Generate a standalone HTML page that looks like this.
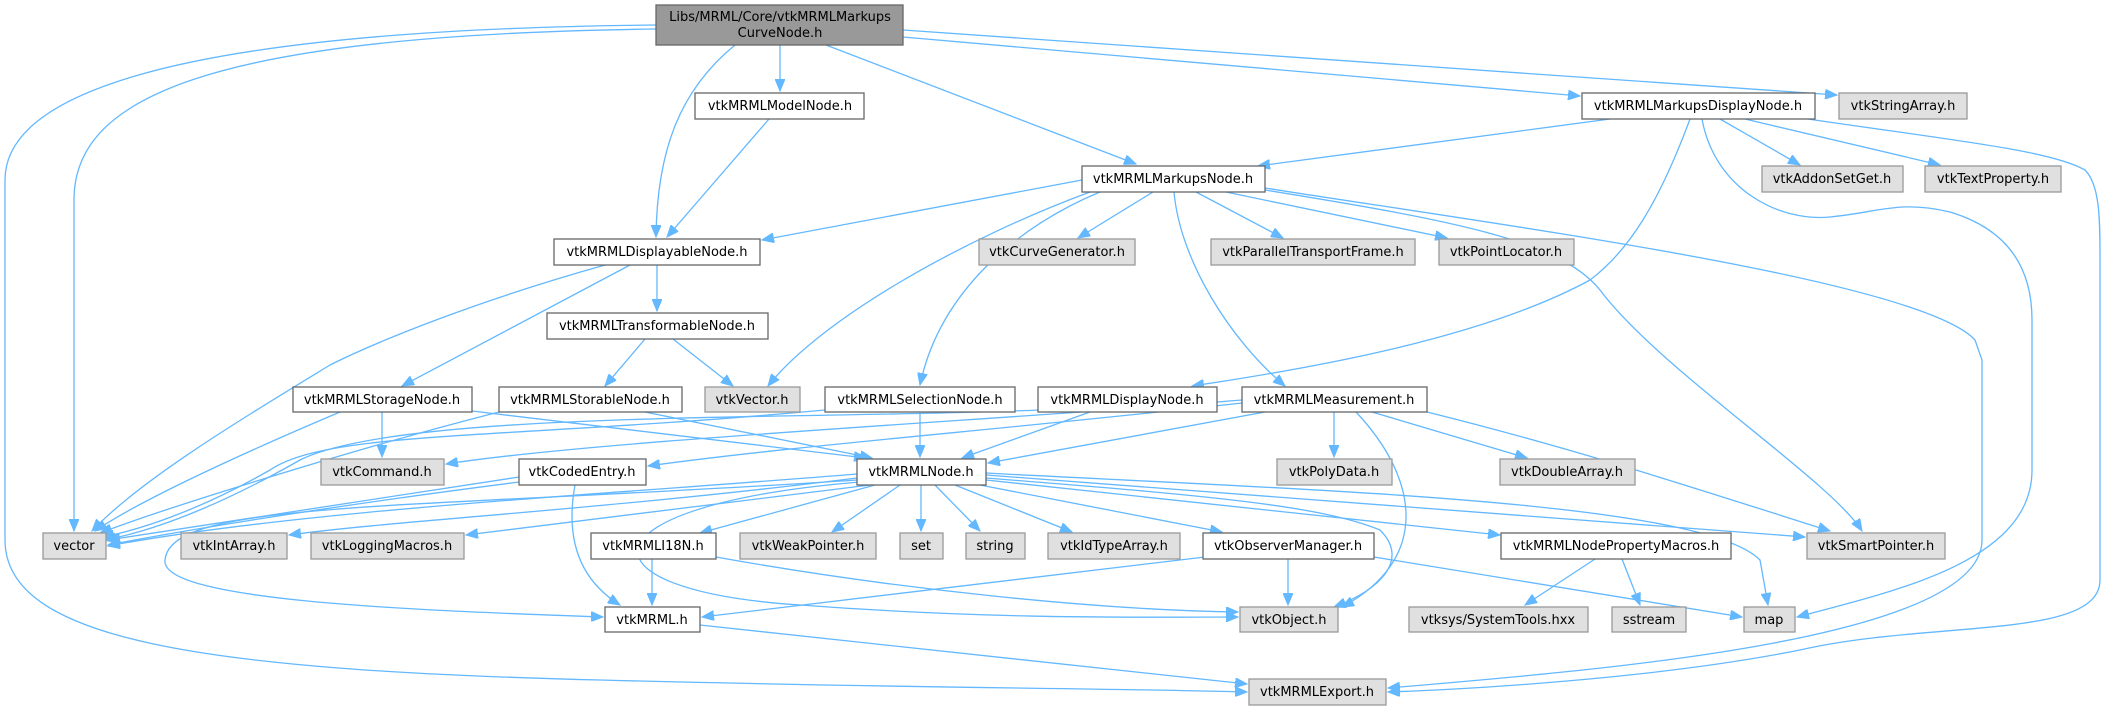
<!DOCTYPE html>
<html><head><meta charset="utf-8"><style>
html,body{margin:0;padding:0;background:#fff;}
svg{display:block;}
text{font-family:"DejaVu Sans","Liberation Sans",sans-serif;font-size:13px;fill:#000;text-anchor:middle;}
.w{fill:#fff;stroke:#666;stroke-width:1.3;}
.g{fill:#e0e0e0;stroke:#999;stroke-width:1.3;}
.r{fill:#999;stroke:#666;stroke-width:1.3;}
path{fill:none;stroke:#63b8ff;stroke-width:1.3;marker-end:url(#a);}
</style></head><body>
<svg width="2105" height="711" viewBox="0 0 2105 711" xmlns="http://www.w3.org/2000/svg">
<defs><marker id="a" markerUnits="userSpaceOnUse" markerWidth="14" markerHeight="10" refX="12" refY="5" orient="auto"><polygon points="0,0 12,5 0,10" fill="#63b8ff" stroke="#63b8ff"/></marker></defs>
<path d="M656,29 C200,35 74,100 74,200 L74,531"/>
<path d="M656,25 C150,30 5,100 5,180 L5,540 C5,640 200,670 600,680 C900,688 1100,688 1247,692"/>
<path d="M735,45 C680,90 657,150 656,237"/>
<path d="M780,45 L780,91"/>
<path d="M826,45 L1136,164"/>
<path d="M903,37 L1580,96"/>
<path d="M903,30 L1837,95"/>
<path d="M769,119 L667,237"/>
<path d="M1610,119 L1258,166"/>
<path d="M1690,119 C1660,200 1630,250 1590,280 C1480,340 1300,370 1192,386"/>
<path d="M1702,119 C1715,190 1780,222 1830,217 C1880,212 1900,200 1950,212 C2010,230 2032,270 2032,320 L2032,470 C2032,560 1900,590 1797,617"/>
<path d="M1720,119 L1800,165"/>
<path d="M1745,119 L1940,165"/>
<path d="M1808,119 C1950,140 2050,150 2085,170 C2100,185 2100,220 2100,260 L2100,580 C2100,640 1930,620 1800,650 C1650,680 1450,690 1388,692"/>
<path d="M1265,188 C1500,225 1920,280 1975,340 L1982,360 L1982,540 C1982,640 1600,670 1388,688"/>
<path d="M1265,190 C1450,220 1560,240 1600,290 C1660,370 1830,480 1862,531"/>
<path d="M1082,180 L762,240"/>
<path d="M1090,192 C960,240 820,320 768,386"/>
<path d="M1100,192 C1020,225 940,290 920,385"/>
<path d="M1153,192 L1078,238"/>
<path d="M1196,192 L1283,238"/>
<path d="M1226,192 L1447,238"/>
<path d="M1174,192 C1180,260 1230,340 1285,386"/>
<path d="M657,265 L657,311"/>
<path d="M630,265 L402,386"/>
<path d="M605,265 C480,300 380,340 330,365 C240,420 140,480 92,531"/>
<path d="M645,339 L605,386"/>
<path d="M673,339 L733,386"/>
<path d="M340,412 C250,450 140,500 95,531"/>
<path d="M382,412 L382,457"/>
<path d="M472,411 L866,458"/>
<path d="M645,412 L872,458"/>
<path d="M499,412 C350,450 160,510 100,533"/>
<path d="M920,412 L920,457"/>
<path d="M825,410 C500,440 330,430 270,470 C200,510 140,530 102,537"/>
<path d="M1090,412 L962,458"/>
<path d="M1040,410 C800,420 400,410 300,460 C230,500 160,530 104,540"/>
<path d="M1242,400 C1000,420 600,440 446,464"/>
<path d="M1242,403 C1000,430 800,445 648,466"/>
<path d="M1265,412 L988,463"/>
<path d="M1334,412 L1334,457"/>
<path d="M1372,412 L1527,458"/>
<path d="M1356,412 C1420,480 1430,560 1342,607"/>
<path d="M1427,412 C1580,450 1700,490 1830,531"/>
<path d="M519,477 L108,540"/>
<path d="M519,482 C300,510 160,535 108,545"/>
<path d="M575,485 C565,540 580,580 620,605"/>
<path d="M857,474 C600,495 300,510 108,546"/>
<path d="M857,478 C600,510 400,520 289,535"/>
<path d="M870,485 L466,535"/>
<path d="M857,480 C400,510 170,500 165,560 C160,600 400,610 603,617"/>
<path d="M875,485 L700,533"/>
<path d="M900,485 L832,532"/>
<path d="M921,485 L921,531"/>
<path d="M935,485 L980,531"/>
<path d="M955,485 L1072,532"/>
<path d="M980,485 L1222,532"/>
<path d="M986,480 L1500,535"/>
<path d="M986,475 C1300,500 1600,520 1805,537"/>
<path d="M986,473 C1300,490 1700,500 1760,560 L1768,605"/>
<path d="M986,478 C1200,495 1320,505 1380,530 C1410,560 1380,590 1334,607"/>
<path d="M860,482 C580,505 570,590 800,605 C1000,620 1150,617 1238,617"/>
<path d="M652,559 L652,605"/>
<path d="M716,557 C900,590 1100,610 1238,612"/>
<path d="M1205,557 L702,617"/>
<path d="M1288,559 L1288,605"/>
<path d="M1374,557 L1742,617"/>
<path d="M1595,559 L1525,605"/>
<path d="M1622,559 L1640,605"/>
<path d="M700,625 L1247,684"/>
<rect class="r" x="656" y="5" width="247" height="40"/><text x="780" y="21">Libs/MRML/Core/vtkMRMLMarkups</text><text x="780" y="37">CurveNode.h</text>
<rect class="w" x="695" y="93" width="169" height="26"/><text x="780" y="110">vtkMRMLModelNode.h</text>
<rect class="w" x="1582" y="93" width="233" height="26"/><text x="1698" y="110">vtkMRMLMarkupsDisplayNode.h</text>
<rect class="g" x="1839" y="93" width="128" height="26"/><text x="1903" y="110">vtkStringArray.h</text>
<rect class="w" x="1082" y="166" width="183" height="26"/><text x="1173" y="183">vtkMRMLMarkupsNode.h</text>
<rect class="g" x="1762" y="166" width="141" height="26"/><text x="1832" y="183">vtkAddonSetGet.h</text>
<rect class="g" x="1925" y="166" width="136" height="26"/><text x="1993" y="183">vtkTextProperty.h</text>
<rect class="w" x="554" y="239" width="206" height="26"/><text x="657" y="256">vtkMRMLDisplayableNode.h</text>
<rect class="g" x="979" y="239" width="156" height="26"/><text x="1057" y="256">vtkCurveGenerator.h</text>
<rect class="g" x="1211" y="239" width="204" height="26"/><text x="1313" y="256">vtkParallelTransportFrame.h</text>
<rect class="g" x="1439" y="239" width="135" height="26"/><text x="1506" y="256">vtkPointLocator.h</text>
<rect class="w" x="547" y="313" width="221" height="26"/><text x="657" y="330">vtkMRMLTransformableNode.h</text>
<rect class="w" x="293" y="387" width="179" height="25"/><text x="382" y="404">vtkMRMLStorageNode.h</text>
<rect class="w" x="499" y="387" width="183" height="25"/><text x="590" y="404">vtkMRMLStorableNode.h</text>
<rect class="g" x="705" y="387" width="95" height="25"/><text x="752" y="404">vtkVector.h</text>
<rect class="w" x="825" y="387" width="190" height="25"/><text x="920" y="404">vtkMRMLSelectionNode.h</text>
<rect class="w" x="1038" y="387" width="179" height="25"/><text x="1127" y="404">vtkMRMLDisplayNode.h</text>
<rect class="w" x="1242" y="387" width="185" height="25"/><text x="1334" y="404">vtkMRMLMeasurement.h</text>
<rect class="g" x="321" y="459" width="123" height="26"/><text x="382" y="476">vtkCommand.h</text>
<rect class="w" x="519" y="459" width="127" height="26"/><text x="582" y="476">vtkCodedEntry.h</text>
<rect class="w" x="857" y="459" width="129" height="26"/><text x="921" y="476">vtkMRMLNode.h</text>
<rect class="g" x="1277" y="459" width="115" height="26"/><text x="1334" y="476">vtkPolyData.h</text>
<rect class="g" x="1500" y="459" width="135" height="26"/><text x="1567" y="476">vtkDoubleArray.h</text>
<rect class="g" x="43" y="533" width="63" height="26"/><text x="74" y="550">vector</text>
<rect class="g" x="181" y="533" width="106" height="26"/><text x="234" y="550">vtkIntArray.h</text>
<rect class="g" x="311" y="533" width="153" height="26"/><text x="387" y="550">vtkLoggingMacros.h</text>
<rect class="w" x="591" y="533" width="125" height="26"/><text x="653" y="550">vtkMRMLI18N.h</text>
<rect class="g" x="740" y="533" width="136" height="26"/><text x="808" y="550">vtkWeakPointer.h</text>
<rect class="g" x="900" y="533" width="43" height="26"/><text x="921" y="550">set</text>
<rect class="g" x="966" y="533" width="59" height="26"/><text x="995" y="550">string</text>
<rect class="g" x="1048" y="533" width="132" height="26"/><text x="1114" y="550">vtkIdTypeArray.h</text>
<rect class="w" x="1203" y="533" width="171" height="26"/><text x="1288" y="550">vtkObserverManager.h</text>
<rect class="w" x="1501" y="533" width="230" height="26"/><text x="1616" y="550">vtkMRMLNodePropertyMacros.h</text>
<rect class="g" x="1807" y="533" width="138" height="26"/><text x="1876" y="550">vtkSmartPointer.h</text>
<rect class="w" x="605" y="607" width="95" height="25"/><text x="652" y="624">vtkMRML.h</text>
<rect class="g" x="1240" y="607" width="98" height="25"/><text x="1289" y="624">vtkObject.h</text>
<rect class="g" x="1409" y="607" width="179" height="25"/><text x="1498" y="624">vtksys/SystemTools.hxx</text>
<rect class="g" x="1612" y="607" width="74" height="25"/><text x="1649" y="624">sstream</text>
<rect class="g" x="1744" y="607" width="51" height="25"/><text x="1769" y="624">map</text>
<rect class="g" x="1249" y="679" width="137" height="26"/><text x="1317" y="696">vtkMRMLExport.h</text>
</svg>
</body></html>
